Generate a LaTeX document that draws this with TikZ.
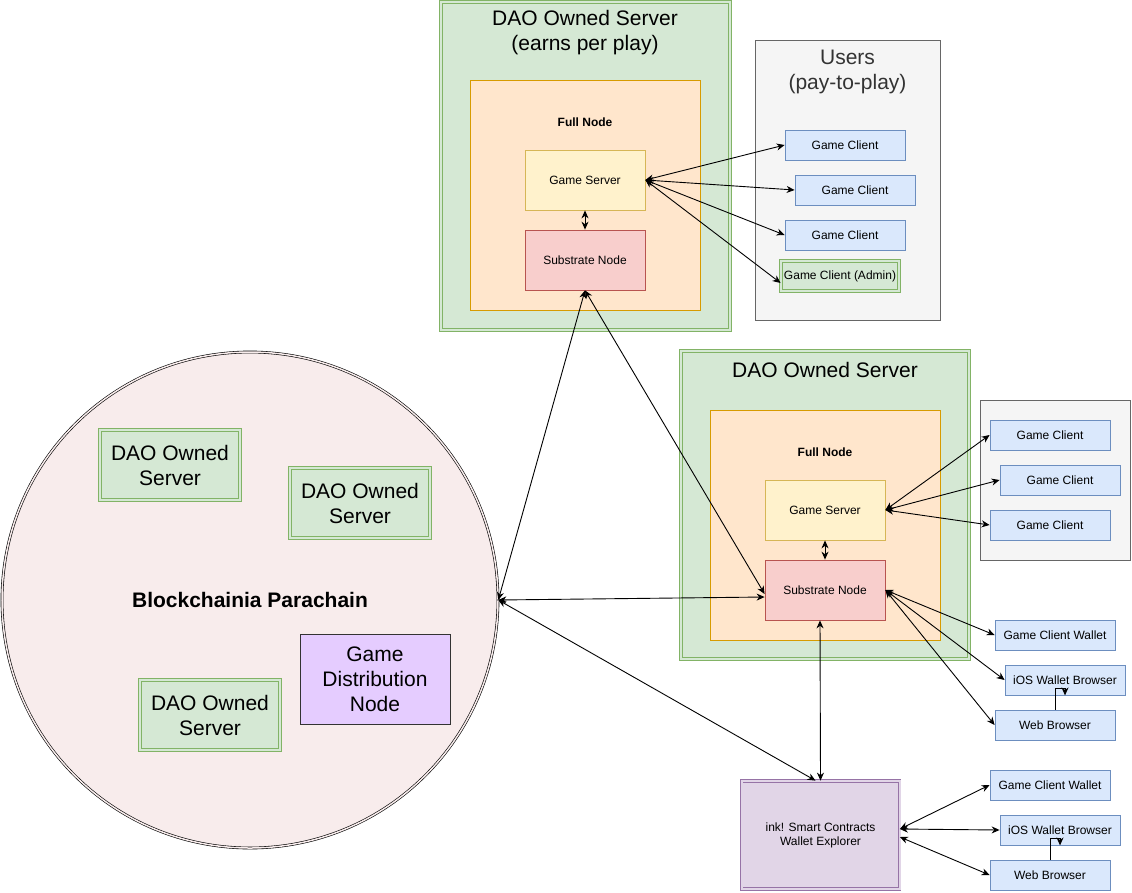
\documentclass[tikz,border=0pt]{standalone}
\usepackage{fontspec}
\setmainfont{Liberation Sans}
\usetikzlibrary{arrows.meta}

\definecolor{grnfill}{HTML}{D5E8D4}
\definecolor{grnline}{HTML}{82B366}
\definecolor{orgfill}{HTML}{FFE6CC}
\definecolor{orgline}{HTML}{D79B00}
\definecolor{ylwfill}{HTML}{FFF2CC}
\definecolor{ylwline}{HTML}{D6B656}
\definecolor{redfill}{HTML}{F8CECC}
\definecolor{redline}{HTML}{B85450}
\definecolor{blufill}{HTML}{DAE8FC}
\definecolor{bluline}{HTML}{6C8EBF}
\definecolor{gryfill}{HTML}{F5F5F5}
\definecolor{gryline}{HTML}{666666}
\definecolor{grytext}{HTML}{333333}
\definecolor{pnkfill}{HTML}{F8ECEC}
\definecolor{vltfill}{HTML}{E5CCFF}
\definecolor{inkfill}{HTML}{E1D5E7}
\definecolor{inkline}{HTML}{9673A6}

\tikzset{
  base/.style={inner sep=0pt, align=center, line width=0.8pt},
  small/.style={font=\fontsize{12}{14}\selectfont},
  big/.style={font=\fontsize{21}{25}\selectfont},
  client/.style={base, small, draw=bluline, fill=blufill, minimum width=120pt, minimum height=30pt},
  dblgreen/.style={base, draw=grnline, fill=grnfill, double=grnfill, double distance=2pt},
  fullnode/.style={base, draw=orgline, fill=orgfill, minimum width=230pt, minimum height=230pt},
  gameserver/.style={base, small, draw=ylwline, fill=ylwfill, minimum width=120pt, minimum height=60pt},
  substrate/.style={base, small, draw=redline, fill=redfill, minimum width=120pt, minimum height=60pt},
  usersbox/.style={base, draw=gryline, fill=gryfill},
  link/.style={{Stealth[length=8pt,width=7pt]}-{Stealth[length=8pt,width=7pt]}, line width=0.9pt},
  onelink/.style={-{Stealth[length=8pt,width=7pt]}, line width=0.9pt}
}

\begin{document}
\begin{tikzpicture}[x=1pt,y=-1pt]
\useasboundingbox (0,0) rectangle (1132,892);

% parachain
\node[circle, draw=black, fill=pnkfill, double=pnkfill, double distance=1.5pt, line width=0.6pt,
      minimum size=496pt, inner sep=0pt, font=\fontsize{21}{25}\bfseries] (chain) at (250,600) {Blockchainia Parachain};
\node[dblgreen, big, minimum width=140pt, minimum height=70pt] (daoa) at (170,465) {DAO Owned\\Server};
\node[dblgreen, big, minimum width=140pt, minimum height=70pt] (daob) at (360,503) {DAO Owned\\Server};
\node[dblgreen, big, minimum width=140pt, minimum height=70pt] (daoc) at (210,715) {DAO Owned\\Server};
\node[base, big, draw=grytext, fill=vltfill, minimum width=150pt, minimum height=90pt] (gdn) at (375,679) {Game\\Distribution\\Node};

% top server
\node[dblgreen, minimum width=289pt, minimum height=328pt] (srv1) at (585.5,166) {};
\node[base, big] (srv1title) at (585,33) {DAO Owned Server\\(earns per play)};
\node[fullnode] (fn1) at (585,195) {};
\node[base, small, font=\fontsize{12}{14}\bfseries] (fn1title) at (585,122) {Full Node};
\node[gameserver] (gs1) at (585,180) {Game Server};
\node[substrate] (sn1) at (585,260) {Substrate Node};

% users
\node[usersbox, minimum width=185pt, minimum height=280pt] (users) at (847.5,180) {};
\node[base, big, text=grytext] (userstitle) at (847.5,72) {Users\\(pay-to-play)};
\node[client] (gc1) at (845,145) {Game Client};
\node[client] (gc2) at (855,190) {Game Client};
\node[client] (gc3) at (845,235) {Game Client};
\node[dblgreen, small, minimum width=118pt, minimum height=30pt] (admin) at (840,276) {Game Client (Admin)};

% second server
\node[dblgreen, minimum width=288pt, minimum height=308pt] (srv2) at (825,505) {};
\node[base, big] (srv2title) at (825,370) {DAO Owned Server};
\node[fullnode] (fn2) at (825,525) {};
\node[base, small, font=\fontsize{12}{14}\bfseries] (fn2title) at (825,452) {Full Node};
\node[gameserver] (gs2) at (825,510) {Game Server};
\node[substrate] (sn2) at (825,590) {Substrate Node};

\node[usersbox, minimum width=150pt, minimum height=160pt] (users2) at (1055,480) {};
\node[client] (gc4) at (1050,435) {Game Client};
\node[client] (gc5) at (1060,480) {Game Client};
\node[client] (gc6) at (1050,525) {Game Client};

\node[client] (gcw1) at (1055,635) {Game Client Wallet};
\node[client] (ios1) at (1065,680) {iOS Wallet Browser};
\node[client] (web1) at (1055,725) {Web Browser};

% ink! contracts
\node[base, small, draw=inkline, fill=inkfill, double=inkfill, double distance=2pt,
      minimum width=158pt, minimum height=108pt] (ink) at (820.5,835) {ink! Smart Contracts\\Wallet Explorer};
\node[client] (gcw2) at (1050,785) {Game Client Wallet};
\node[client] (ios2) at (1060,830) {iOS Wallet Browser};
\node[client] (web2) at (1050,875) {Web Browser};

% connectors
\draw[link] (gs1.east) -- (gc1.west);
\draw[link] (gs1.east) -- (gc2.west);
\draw[link] (gs1.east) -- (gc3.west);
\draw[link] (gs1.east) -- ([yshift=-7pt]admin.west);
\draw[link] (gs1.south) -- (sn1.north);
\draw[link] (sn1.south) -- (chain.east);
\draw[link] (sn1.south) -- ([yshift=-4pt]sn2.west);
\draw[link] (chain.east) -- ([yshift=-7pt]sn2.west);
\draw[link] (chain.east) -- ([xshift=-5pt]ink.north);
\draw[link] ([xshift=-5pt]sn2.south) -- (ink.north);

\draw[link] (gs2.east) -- (gc4.west);
\draw[link] (gs2.east) -- (gc5.west);
\draw[link] (gs2.east) -- (gc6.west);
\draw[link] (gs2.south) -- (sn2.north);
\draw[link] (sn2.east) -- (gcw1.west);
\draw[link] (sn2.east) -- (ios1.west);
\draw[link] (sn2.east) -- (web1.west);
\draw[onelink] (web1.north) -- ++(0,-21) -| (ios1.south);

\draw[link] ([yshift=6pt]ink.east) -- (gcw2.west);
\draw[link] ([yshift=6pt]ink.east) -- (ios2.west);
\draw[link] ([yshift=-2pt]ink.east) -- (web2.west);
\draw[onelink] (web2.north) -- ++(0,-21) -| (ios2.south);
\end{tikzpicture}
\end{document}
